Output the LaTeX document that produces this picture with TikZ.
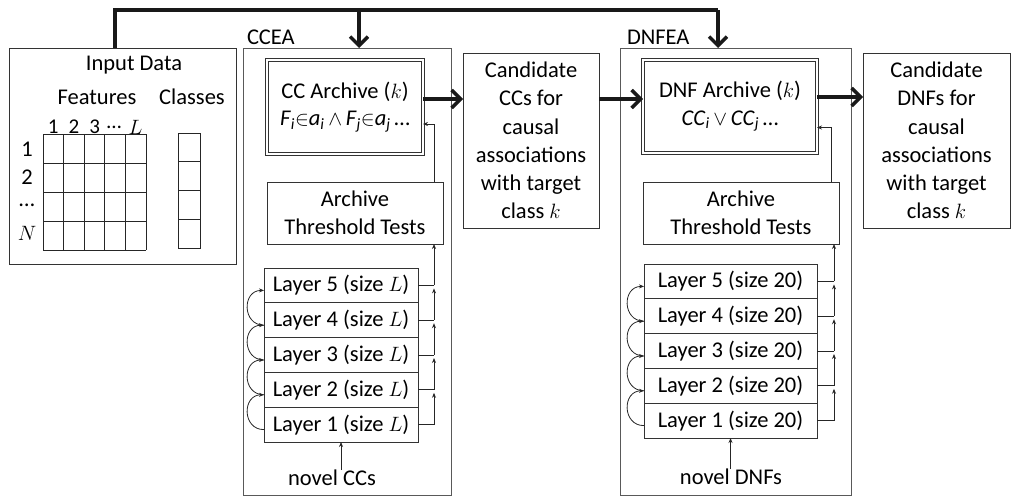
\documentclass[tikz,border=0pt]{standalone}
\usepackage{fontspec}
\setmainfont{Carlito}
\usetikzlibrary{arrows.meta}
\begin{document}
\begin{tikzpicture}[x=1pt,y=-1pt,
  every node/.style={font=\fontsize{22.5}{28.2}\selectfont, inner sep=0pt, outer sep=0pt},
  box/.style={draw=black!80, line width=0.9pt, anchor=north west, inner sep=0pt, align=center},
  dbox/.style={box, line width=1.1pt, double, double distance=1.6pt},
  fatline/.style={line width=3.5pt, draw=black!90},
  fatarrow/.style={fatline, -{Straight Barb[length=9pt,width=18pt]}},
  thinline/.style={line width=0.8pt, draw=black!85},
  thinarrow/.style={thinline, -{Stealth[length=5pt,width=4pt]}},
  cell/.style={line width=0.8pt, draw=black!85}
]
\useasboundingbox (0,0) rectangle (1011,496);

% main boxes
\node[box, minimum width=227pt, minimum height=216pt] (input) at (9,48) {};
\node[box, draw=black!65, minimum width=208pt, minimum height=447pt] (ccea) at (243,48) {};
\node[box, draw=black!65, minimum width=231pt, minimum height=447pt] (dnfea) at (620,48) {};
\node[anchor=west] (cceal) at (247,37) {CCEA};
\node[anchor=west] (dnfeal) at (627,37) {DNFEA};

% input data contents
\node (intitle) at (134,65) {Input Data};
\node (feat) at (97,97) {Features};
\node (cls) at (192,97) {Classes};
\foreach \t/\x in {1/53.3,2/74,3/94.6,\ldots/114,$L$/135.5} \node[font=\fontsize{21}{26}\selectfont] at (\x,127) {\t};
\foreach \t/\y in {1/149,2/177,\ldots/205,$N$/233} \node at (27,\y) {\t};
\foreach \i in {0,...,5} \draw[cell] (43+\i*20.6,134) -- (43+\i*20.6,250);
\foreach \j in {0,...,4} \draw[cell] (43,134+\j*29) -- (146,134+\j*29);
\draw[cell] (178,133) rectangle (200,248);
\foreach \j in {1,2,3} \draw[cell] (178,133+\j*28.75) -- (200,133+\j*28.75);

% CCEA
\node[dbox, minimum width=156pt, minimum height=94pt] (ccarch) at (267,60)
  {CC Archive ($k$)\\[-1pt]\textit{F}\textsubscript{\textit{i}}$\in$\textit{a}\textsubscript{\textit{i}}\,$\wedge$\,\textit{F}\textsubscript{\textit{j}}$\in$\textit{a}\textsubscript{\textit{j}}\,\ldots};
\node[box, minimum width=176pt, minimum height=62pt] (att1) at (267,182) {Archive\\Threshold Tests};
\foreach \i/\y in {5/268,4/302.8,3/337.6,2/372.4,1/407.2}
  \node[box, minimum width=154pt, minimum height=34.8pt] (l\i) at (264,\y) {Layer \i\ (size $L$)};
\node (ncc) at (332,478) {novel CCs};

% candidate CCs
\node[box, minimum width=136pt, minimum height=175pt] (cand1) at (463,53)
  {Candidate\\CCs for\\causal\\associations\\with target\\class $k$};

% DNFEA
\node[dbox, minimum width=174pt, minimum height=93pt] (dnfarch) at (643,60)
  {DNF Archive ($k$)\\[-1pt]\textit{CC}\textsubscript{\textit{i}}\,$\vee$\,\textit{CC}\textsubscript{\textit{j}}\,\ldots};
\node[box, minimum width=196pt, minimum height=62pt] (att2) at (643,182) {Archive\\Threshold Tests};
\foreach \i/\y in {5/264,4/298.8,3/333.6,2/368.4,1/403.2}
  \node[box, minimum width=173pt, minimum height=34.8pt] (d\i) at (644,\y) {Layer \i\ (size 20)};
\node (ndnf) at (731,477) {novel DNFs};

% candidate DNFs
\node[box, minimum width=147pt, minimum height=175pt] (cand2) at (863,53)
  {Candidate\\DNFs for\\causal\\associations\\with target\\class $k$};

% top feed lines
\coordinate (t0) at (115,10);
\coordinate (t1) at (359,10);
\coordinate (t2) at (718,10);
\draw[fatline] (input.north -| t0) -- (t0) -- (t2);
\draw[fatarrow] (t2) -- (t2 |- dnfea.north);
\draw[fatarrow] (t1) -- (t1 |- ccea.north);

% horizontal thick arrows
\draw[fatarrow] ([yshift=8pt]ccarch.east) -- ([yshift=8pt]ccarch.east -| cand1.west);
\draw[fatarrow] ([yshift=41.5pt]cand1.east) -- ([yshift=41.5pt]cand1.east -| dnfarch.west);
\draw[fatarrow] ([yshift=9.5pt]dnfarch.east) -- ([yshift=9.5pt]dnfarch.east -| cand2.west);

% CCEA internal connectors
\coordinate (cx) at (434,0);
\foreach \i in {1,...,5} \draw[thinline] (l\i.east) -- (l\i.east -| cx);
\foreach \i/\j in {1/2,2/3,3/4,4/5} {
  \draw[thinarrow] (l\i.east -| cx) -- ([yshift=-3pt]l\j.east -| cx);
  \draw[thinarrow] ([yshift=-5pt]l\i.west) .. controls +(-22,0) and +(-22,0) .. ([yshift=-5pt]l\j.west);
}
\draw[thinarrow] (l5.east -| cx) -- (cx |- att1.south);
\draw[thinarrow] (cx |- att1.north) |- ([yshift=-17pt]ccarch.east);
\draw[thinarrow] (ncc.north -| l1.south) -- (l1.south);

% DNFEA internal connectors
\coordinate (dx) at (834,0);
\foreach \i in {1,...,5} \draw[thinline] (d\i.east) -- (d\i.east -| dx);
\foreach \i/\j in {1/2,2/3,3/4,4/5} {
  \draw[thinarrow] (d\i.east -| dx) -- ([yshift=-3pt]d\j.east -| dx);
  \draw[thinarrow] ([yshift=-5pt]d\i.west) .. controls +(-22,0) and +(-22,0) .. ([yshift=-5pt]d\j.west);
}
\draw[thinarrow] (d5.east -| dx) -- (dx |- att2.south);
\draw[thinarrow] ([xshift=-3pt]dx |- att2.north) |- ([yshift=-21pt]dnfarch.east);
\draw[thinarrow] (ndnf.north -| d1.south) -- (d1.south);
\end{tikzpicture}
\end{document}
